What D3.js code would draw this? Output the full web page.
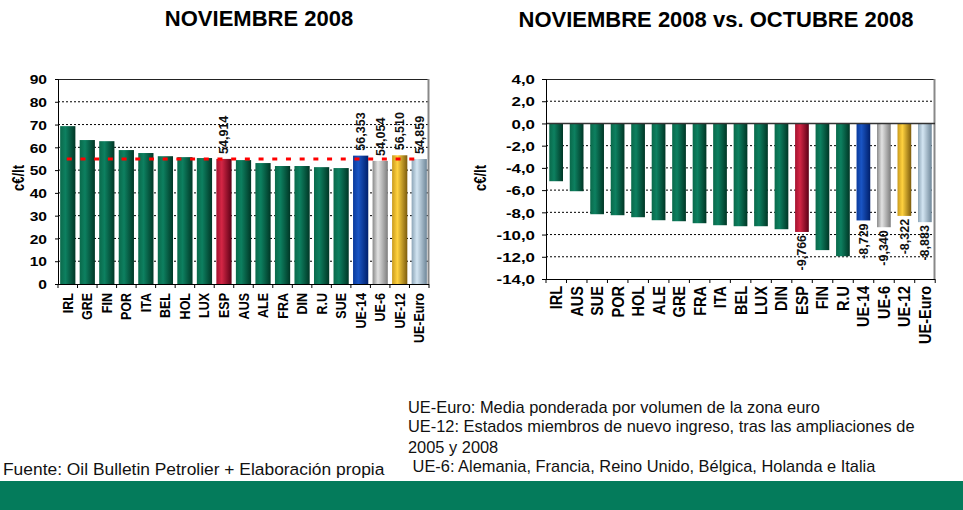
<!DOCTYPE html>
<html>
<head>
<meta charset="utf-8">
<script src="https://cdn.jsdelivr.net/npm/d3@7"></script>
<style>
  html, body { margin: 0; padding: 0; background: #fff; }
  svg { display: block; font-family: "Liberation Sans", Arial, sans-serif; }
</style>
</head>
<body>
<svg id="chart" width="963" height="510"></svg>
<script>
// Precio medio (c€/lt), noviembre 2008
const priceCategories = ["IRL","GRE","FIN","POR","ITA","BEL","HOL","LUX","ESP","AUS","ALE","FRA","DIN","R.U","SUE","UE-14","UE-6","UE-12","UE-Euro"];
const priceValues = [69.3, 63.2, 62.7, 58.8, 57.5, 56.1, 55.7, 55.3, 54.914, 54.4, 53.1, 51.8, 51.8, 51.3, 50.9, 56.353, 54.054, 56.510, 54.859];
const priceTicks = [0, 10, 20, 30, 40, 50, 60, 70, 80, 90];
const priceRefCategory = "ESP";

// Variación noviembre vs. octubre 2008 (c€/lt)
const changeCategories = ["IRL","AUS","SUE","POR","HOL","ALE","GRE","FRA","ITA","BEL","LUX","DIN","ESP","FIN","R.U","UE-14","UE-6","UE-12","UE-Euro"];
const changeValues = [-5.2, -6.1, -8.17, -8.26, -8.44, -8.71, -8.8, -8.98, -9.16, -9.25, -9.25, -9.52, -9.766, -11.4, -11.95, -8.729, -9.340, -8.322, -8.883];
const changeTicks = [4, 2, 0, -2, -4, -6, -8, -10, -12, -14];

const labelledCategories = ["ESP","UE-14","UE-6","UE-12","UE-Euro"];

const notes = [
  "UE-Euro: Media ponderada por volumen de la zona euro",
  "UE-12: Estados miembros de nuevo ingreso, tras las ampliaciones de",
  "2005 y 2008",
  " UE-6: Alemania, Francia, Reino Unido, Bélgica, Holanda e Italia"
];
const source = "Fuente: Oil Bulletin Petrolier + Elaboración propia";

const locale = d3.formatLocale({ decimal: ",", thousands: ".", grouping: [3], currency: ["", "€"], minus: "-" });
const fmt1 = locale.format(".1f");
const fmt3 = locale.format(".3f");

const svg = d3.select("#chart");
const defs = svg.append("defs");

// Cylinder-like shading for each bar colour
const palettes = {
  green:  ["#0a6a4b", "#0d8060", "#003625"],
  red:    ["#a3122f", "#d42645", "#5c0016"],
  blue:   ["#0a3a9c", "#1a55c4", "#001f6b"],
  gray:   ["#8a8a8a", "#e2e2e2", "#7d7d7d"],
  gold:   ["#c99a1c", "#ffd23f", "#7d5c0c"],
  steel:  ["#8ea6b8", "#d3e5f2", "#6f8799"]
};
Object.entries(palettes).forEach(([name, c]) => {
  const g = defs.append("linearGradient").attr("id", "grad-" + name)
    .attr("x1", "0%").attr("x2", "100%").attr("y1", "0%").attr("y2", "0%");
  g.append("stop").attr("offset", "0%").attr("stop-color", c[0]);
  g.append("stop").attr("offset", "35%").attr("stop-color", c[1]);
  g.append("stop").attr("offset", "100%").attr("stop-color", c[2]);
});
const colourOf = cat => ({ "ESP": "red", "UE-14": "blue", "UE-6": "gray", "UE-12": "gold", "UE-Euro": "steel" }[cat] || "green");

// Text widened horizontally like the embedded chart images
function stretchedText(sel, x, y, sx, angle) {
  sel.attr("transform", `translate(${x},${y}) scale(${sx},1) rotate(${angle || 0})`);
}

// ---------- Titles ----------
svg.append("text").attr("x", 259).attr("y", 26).attr("text-anchor", "middle")
  .attr("font-size", 22).attr("font-weight", "bold").text("NOVIEMBRE 2008");
svg.append("text").attr("x", 716).attr("y", 27).attr("text-anchor", "middle")
  .attr("font-size", 22).attr("font-weight", "bold").text("NOVIEMBRE 2008 vs. OCTUBRE 2008");

// ---------- Chart 1: price level ----------
{
  const left = 58, right = 429, top = 79, bottom = 284;
  const x = d3.scaleBand().domain(priceCategories).range([left, right]).paddingInner(0.22).paddingOuter(0.11);
  const y = d3.scaleLinear().domain([0, 90]).range([bottom, top]);
  const g = svg.append("g");

  // dotted gridlines
  g.selectAll("line.grid").data(priceTicks.filter(t => t > 0 && t < 90)).join("line")
    .attr("x1", left).attr("x2", right).attr("y1", d => y(d)).attr("y2", d => y(d))
    .attr("stroke", "#000").attr("stroke-width", 1).attr("stroke-dasharray", "2,2");

  // frame
  g.append("line").attr("x1", left).attr("x2", right).attr("y1", top + 0.5).attr("y2", top + 0.5).attr("stroke", "#222");
  g.append("line").attr("x1", right - 0.5).attr("x2", right - 0.5).attr("y1", top).attr("y2", bottom).attr("stroke", "#888").attr("stroke-width", 2);

  // bars
  g.selectAll("rect.bar").data(priceCategories).join("rect")
    .attr("x", d => x(d)).attr("width", x.bandwidth())
    .attr("y", (d, i) => y(priceValues[i]))
    .attr("height", (d, i) => y(0) - y(priceValues[i]))
    .attr("fill", d => `url(#grad-${colourOf(d)})`);

  // reference level (Spain)
  const ref = priceValues[priceCategories.indexOf(priceRefCategory)];
  const xFirst = x(priceCategories[0]) + x.bandwidth() / 2 - 1;
  const xLast = x(priceCategories[priceCategories.length - 1]) + x.bandwidth() / 2 + 2;
  g.append("line").attr("x1", xFirst).attr("x2", xLast).attr("y1", y(ref)).attr("y2", y(ref))
    .attr("stroke", "#ff0000").attr("stroke-width", 3).attr("stroke-dasharray", "5,8.7");

  // y axis
  const ay = g.append("g").attr("transform", `translate(${left},0)`)
    .call(d3.axisLeft(y).tickValues(priceTicks).tickSize(3).tickFormat(d3.format("d")));
  ay.select(".domain").attr("stroke", "#000");
  ay.selectAll("text").each(function () {
    const t = d3.select(this);
    t.attr("font-family", "Liberation Sans, Arial, sans-serif").attr("font-size", 13).attr("font-weight", "bold")
      .attr("fill", "#000").attr("text-anchor", "end").attr("dy", "0.36em").attr("x", null);
    stretchedText(t, -11, 0, 1.2);
  });

  // x axis baseline and category separators
  g.append("line").attr("x1", left).attr("x2", right).attr("y1", bottom + 0.5).attr("y2", bottom + 0.5).attr("stroke", "#000");
  const step = x.step();
  g.selectAll("line.sep").data(d3.range(priceCategories.length + 1)).join("line")
    .attr("x1", i => left + i * step).attr("x2", i => left + i * step)
    .attr("y1", bottom).attr("y2", bottom + 4).attr("stroke", "#000");

  // category labels
  g.selectAll("text.cat").data(priceCategories).join("text")
    .attr("font-size", 12.5).attr("font-weight", "bold").attr("text-anchor", "end").attr("dy", "0.36em")
    .text(d => d)
    .each(function (d) { stretchedText(d3.select(this), x(d) + x.bandwidth() / 2, 293, 1.12, -90); });

  // value labels
  g.selectAll("text.val").data(labelledCategories).join("text")
    .attr("font-size", 12.5).attr("font-weight", "bold").attr("fill", "#111").attr("text-anchor", "start").attr("dy", "0.36em")
    .text(d => fmt3(priceValues[priceCategories.indexOf(d)]))
    .each(function (d) {
      const v = priceValues[priceCategories.indexOf(d)];
      stretchedText(d3.select(this), x(d) + x.bandwidth() / 2, y(v) - 5, 1.0, -90);
    });

  // unit label
  const u = g.append("text").attr("font-size", 13).attr("font-weight", "bold").attr("text-anchor", "middle")
    .attr("dy", "0.36em").text("c€/lt");
  stretchedText(u, 18, 178, 1.2, -90);
}

// ---------- Chart 2: monthly change ----------
{
  const left = 546, right = 935, top = 79, bottom = 279;
  const x = d3.scaleBand().domain(changeCategories).range([left, right]).paddingInner(0.33).paddingOuter(0.16);
  const y = d3.scaleLinear().domain([-14, 4]).range([bottom, top]);
  const g = svg.append("g");

  g.selectAll("line.grid").data(changeTicks.filter(t => t !== 0 && t > -14 && t < 4)).join("line")
    .attr("x1", left).attr("x2", right).attr("y1", d => y(d)).attr("y2", d => y(d))
    .attr("stroke", "#000").attr("stroke-width", 1).attr("stroke-dasharray", "2,2");

  g.append("line").attr("x1", left).attr("x2", right).attr("y1", top + 0.5).attr("y2", top + 0.5).attr("stroke", "#222");
  g.append("line").attr("x1", right - 0.5).attr("x2", right - 0.5).attr("y1", top).attr("y2", bottom).attr("stroke", "#888").attr("stroke-width", 2);
  g.append("line").attr("x1", left).attr("x2", right).attr("y1", bottom + 0.5).attr("y2", bottom + 0.5).attr("stroke", "#000");

  g.selectAll("rect.bar").data(changeCategories).join("rect")
    .attr("x", d => x(d)).attr("width", x.bandwidth())
    .attr("y", y(0))
    .attr("height", (d, i) => y(changeValues[i]) - y(0))
    .attr("fill", d => `url(#grad-${colourOf(d)})`);

  // zero line
  g.append("line").attr("x1", left).attr("x2", right).attr("y1", y(0)).attr("y2", y(0)).attr("stroke", "#333").attr("stroke-width", 1.5);

  const ay = g.append("g").attr("transform", `translate(${left},0)`)
    .call(d3.axisLeft(y).tickValues(changeTicks).tickSize(4).tickFormat(fmt1));
  ay.select(".domain").attr("stroke", "#000");
  ay.selectAll("text").each(function () {
    const t = d3.select(this);
    t.attr("font-family", "Liberation Sans, Arial, sans-serif").attr("font-size", 13).attr("font-weight", "bold")
      .attr("fill", "#000").attr("text-anchor", "end").attr("dy", "0.36em").attr("x", null);
    stretchedText(t, -11, 0, 1.3);
  });

  const step = x.step();
  g.selectAll("line.sep").data(d3.range(changeCategories.length + 1)).join("line")
    .attr("x1", i => left + i * step).attr("x2", i => left + i * step)
    .attr("y1", bottom).attr("y2", bottom + 4).attr("stroke", "#000");

  g.selectAll("text.cat").data(changeCategories).join("text")
    .attr("font-size", 14.5).attr("font-weight", "bold").attr("text-anchor", "end").attr("dy", "0.36em")
    .text(d => d)
    .each(function (d) { stretchedText(d3.select(this), x(d) + x.bandwidth() / 2, 286, 1.15, -90); });

  g.selectAll("text.val").data(labelledCategories).join("text")
    .attr("font-size", 12.5).attr("font-weight", "bold").attr("fill", "#111").attr("text-anchor", "end").attr("dy", "0.36em")
    .text(d => fmt3(changeValues[changeCategories.indexOf(d)]))
    .each(function (d) {
      const v = changeValues[changeCategories.indexOf(d)];
      stretchedText(d3.select(this), x(d) + x.bandwidth() / 2, y(v) + 3, 1.0, -90);
    });

  const u = g.append("text").attr("font-size", 13).attr("font-weight", "bold").attr("text-anchor", "middle")
    .attr("dy", "0.36em").text("c€/lt");
  stretchedText(u, 480, 178, 1.2, -90);
}

// ---------- Notes and source ----------
const noteY = [413, 432, 453, 472];
svg.selectAll("text.note").data(notes).join("text")
  .attr("x", 408).attr("y", (d, i) => noteY[i])
  .attr("font-size", 16.4).attr("fill", "#111")
  .style("white-space", "pre").text(d => d);
svg.append("text").attr("x", 3).attr("y", 475).attr("font-size", 17.4).attr("fill", "#111").text(source);

// footer band
svg.append("rect").attr("x", 0).attr("y", 481).attr("width", 963).attr("height", 29).attr("fill", "#047b5b");
</script>
</body>
</html>
